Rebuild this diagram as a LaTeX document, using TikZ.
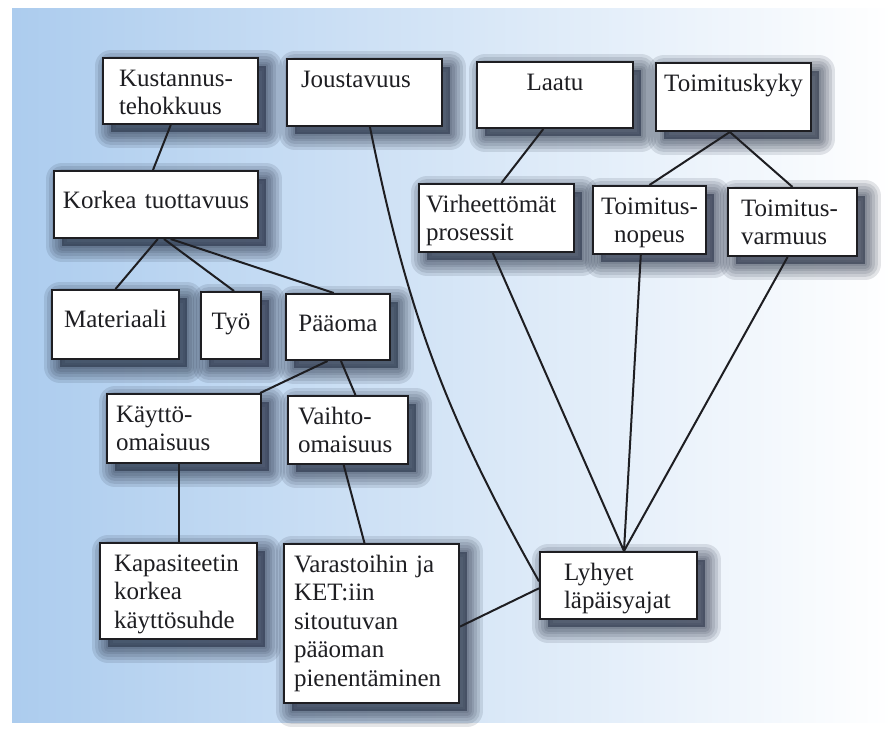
\documentclass[tikz,border=0pt]{standalone}
\usepackage{fontspec}
\setmainfont{Liberation Serif}
\usepackage{xcolor}
\usepackage{tikz}
\usetikzlibrary{shadows,calc}

\definecolor{bgleft}{RGB}{172,204,238}
\definecolor{bgmid}{RGB}{208,228,246}
\definecolor{inkgray}{RGB}{30,30,34}
\definecolor{shadowc}{RGB}{35,45,65}
\hyphenpenalty=10000
\exhyphenpenalty=10000

\begin{document}
\begin{tikzpicture}[x=1pt, y=-1pt,
    softshadow/.style={general shadow={draw=shadowc, fill=shadowc, line join=round,
        line width=#1, opacity=0.12, shadow xshift=8pt, shadow yshift=-8pt}},
    box/.style={draw=inkgray, line width=2pt, fill=white, anchor=north west,
        inner xsep=10pt, inner ysep=10pt, text height=18pt, align=left,
        text=inkgray, font=\fontsize{25}{28.5}\selectfont,
        softshadow=32pt, softshadow=26pt, softshadow=20pt, softshadow=14pt,
        softshadow=9pt, softshadow=4pt},
    midbox/.style={box, text height=27pt, align=center, inner xsep=6pt},
    link/.style={draw=inkgray, line width=2pt}]
    \useasboundingbox (0,0) rectangle (893,729);

    % scanned page background
    \fill[white] (0,0) rectangle (893,729);
    \shade[left color=bgleft, middle color=bgmid, right color=white] (12,8) rectangle (893,722);

    % top row
    \node[box, text width=123pt, inner xsep=16pt, text depth=28pt] (kust) at (102,57) {Kustannus-\\tehokkuus};
    \node[box, text width=127pt, inner xsep=14pt, text depth=29pt] (joust) at (286,58) {Joustavuus};
    \node[box, text width=136pt, align=center, text depth=28pt] (laatu) at (476,61) {Laatu};
    \node[box, text width=145pt, inner xsep=5pt, align=center, text depth=30pt] (toimk) at (655,62) {Toimituskyky};

    % second row
    \node[midbox, text width=194pt, inner xsep=5pt, text depth=20pt] (korkea) at (53,170) {Korkea tuottavuus};
    \node[box, text width=141pt, inner xsep=7pt, text depth=30pt] (virhe) at (418,183) {Virheettömät\\prosessit};
    \node[box, text width=105pt, inner xsep=4pt, align=center, text depth=30pt] (nopeus) at (592,185) {Toimitus-\\nopeus};
    \node[box, text width=103pt, inner xsep=13pt, text depth=30pt] (varmuus) at (727,187) {Toimitus-\\varmuus};

    % production factors
    \node[midbox, text width=115pt, text depth=22pt] (mat) at (51,289) {Materiaali};
    \node[midbox, text width=48pt, text depth=20pt] (tyo) at (200,291) {Työ};
    \node[midbox, text width=92pt, text depth=19pt] (paaoma) at (285,293) {Pääoma};

    % capital
    \node[box, text width=136pt, inner xsep=9pt, text depth=31pt] (kaytto) at (106,393) {Käyttö-\\omaisuus};
    \node[box, text width=100pt, inner xsep=10pt, text depth=30pt] (vaihto) at (287,395) {Vaihto-\\omaisuus};

    % bottom row
    \node[box, text width=129pt, inner xsep=14pt, text depth=58pt] (kapas) at (99,542) {Kapasiteetin\\korkea\\käyttösuhde};
    \node[box, text width=155pt, inner xsep=10pt, text depth=121pt] (varast) at (283,543) {Varastoihin ja\\KET:iin\\sitoutuvan\\pääoman\\pienentäminen};
    \node[box, text width=109pt, inner xsep=24pt, text depth=29pt] (lyhyet) at (539,551) {Lyhyet\\läpäisyajat};

    % links
    \draw[link] (kust.254) -- (korkea.95);
    \draw[link] (korkea.273) -- (mat.north);
    \draw[link] (korkea.283) -- (tyo.85);
    \draw[link] (korkea.293) -- (paaoma.97);
    \draw[link] (paaoma.253) -- (kaytto.25);
    \draw[link] (paaoma.275) -- (vaihto.78);
    \draw[link] (kapas.north |- kaytto.south) -- (kapas.north);
    \draw[link] (vaihto.263) -- (varast.95);
    \draw[link] (varast.358) -- (lyhyet.182);
    \draw[link] (joust.279) to[bend right=9] (lyhyet.177);
    \draw[link] (laatu.251) -- (virhe.82);
    \draw[link] (toimk.264) -- (nopeus.north);
    \draw[link] (toimk.264) -- (varmuus.north);
    \draw[link] (virhe.264) -- (lyhyet.81);
    \draw[link] (nopeus.256) -- (lyhyet.81);
    \draw[link] (varmuus.262) -- (lyhyet.81);
\end{tikzpicture}
\end{document}
